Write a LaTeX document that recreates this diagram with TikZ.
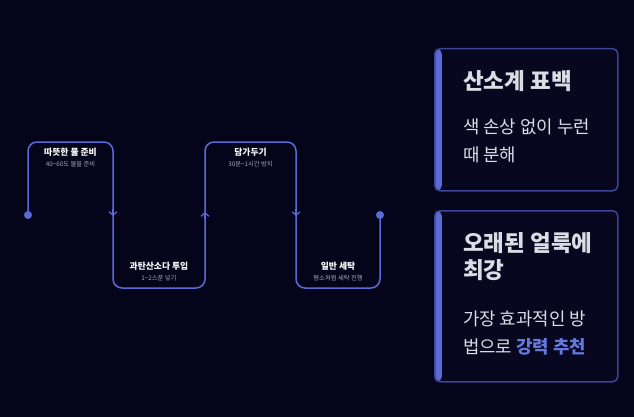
\documentclass[tikz,border=0pt]{standalone}
\usepackage{fontspec}
\setmainfont{Noto Sans CJK KR}
\usetikzlibrary{arrows.meta,positioning,calc}
\definecolor{fond}{HTML}{04041A}
\definecolor{fondcarte}{HTML}{07071F}
\definecolor{ligne}{HTML}{5A6AD6}
\definecolor{bord}{HTML}{3A4596}
\definecolor{accent}{HTML}{5B6AD4}
\definecolor{texte}{HTML}{DCDCE4}
\definecolor{gris}{HTML}{A8A8B8}
\definecolor{bleu}{HTML}{6478E0}
\tikzset{
  vague/.style={draw=ligne, line width=1.5pt, rounded corners=9pt},
  point/.style={circle, fill=ligne, inner sep=0pt, minimum size=8pt},
  chev/.style={-{Straight Barb[length=3.5pt, width=8pt]}, draw=ligne, line width=1.2pt},
  titre/.style={font=\fontsize{8.8}{11}\selectfont\bfseries, text=white, inner sep=0pt, anchor=base},
  soustitre/.style={font=\fontsize{6.3}{8}\selectfont, text=gris, inner sep=0pt, anchor=base},
  carte/.style={rectangle, rounded corners=5pt, draw=bord, line width=1.5pt, fill=fondcarte,
                minimum width=183pt, anchor=north west, inner sep=0pt,
                path picture={\fill[accent] (path picture bounding box.north west)
                  rectangle ([xshift=7pt]path picture bounding box.south west);}},
  grand/.style={font=\fontsize{22.5}{26}\selectfont\bfseries, text=texte, inner sep=0pt, anchor=base west},
  corps/.style={font=\fontsize{17.8}{21}\selectfont, text=texte, inner sep=0pt, anchor=base west},
}
\begin{document}
\begin{tikzpicture}[x=1pt, y=-1pt]
  \fill[fond] (0,0) rectangle (634,417);
  \useasboundingbox (0,0) rectangle (634,417);
  % wave of the four steps
  \coordinate (debut) at (28,215);
  \coordinate (h1) at (113,142);
  \coordinate (b1) at (205,288);
  \coordinate (h2) at (296,142);
  \coordinate (b2) at (380,288);
  \coordinate (fin) at (380,215);
  \draw[vague] (debut) |- (h1) |- (b1) |- (h2) |- (b2) -- (fin);
  \node[point] (p1) at (debut) {};
  \node[point] (p2) at (fin) {};
  \foreach \x/\s in {113/1, 205/-1, 296/1}
    \draw[chev] (\x,{214-5*\s}) -- (\x,{214+2*\s});
  \node[titre] (t1) at (70.5,155) {따뜻한 물 준비};
  \node[soustitre] (s1) at (70.5,166.5) {40\textasciitilde60도 물을 준비};
  \node[titre] (t2) at (159,269) {과탄산소다 투입};
  \node[soustitre] (s2) at (159,280.5) {1\textasciitilde2스푼 넣기};
  \node[titre] (t3) at (250.5,155) {담가두기};
  \node[soustitre] (s3) at (250.5,166.5) {30분\textasciitilde1시간 방치};
  \node[titre] (t4) at (338,269) {일반 세탁};
  \node[soustitre] (s4) at (338,280.5) {평소처럼 세탁 진행};
  % cards
  \node[carte, minimum height=142pt] (c1) at (434,48) {};
  \node[carte, minimum height=171pt] (c2) at (434,210) {};
  \node[grand] (g1) at (463,90) {산소계 표백};
  \node[corps] (l1) at (463,133) {색 손상 없이 누런};
  \node[corps] (l2) at (463,161) {때 분해};
  \node[grand] (g2) at (463,251) {오래된 얼룩에};
  \node[grand] (g3) at (463,278) {최강};
  \node[corps] (l3) at (463,325) {가장 효과적인 방};
  \node[corps] (l4) at (463,353) {법으로 {\bfseries\color{bleu}강력 추천}};
\end{tikzpicture}
\end{document}
